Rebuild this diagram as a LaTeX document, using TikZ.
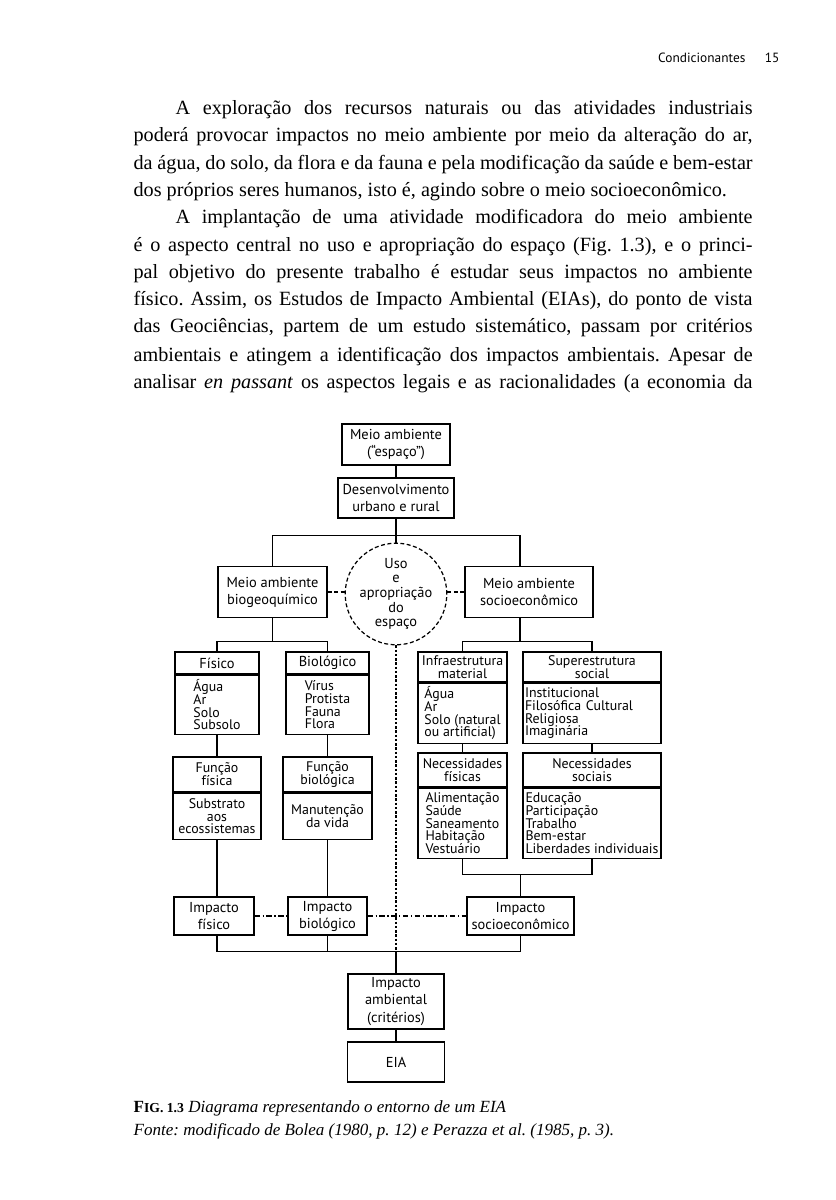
\documentclass[tikz,border=0pt]{standalone}
\usepackage{fontspec}
\setmainfont{Liberation Serif}
\newfontfamily\diagfont{PT Sans}
\usetikzlibrary{positioning}
\frenchspacing
\newcommand{\noskip}{\lineskiplimit=-10pt\relax}
\newcommand{\fullline}[2]{%
  \node[txt] (l#1) at (133,#1) {\makebox[123.8mm][s]{#2}};
}
\newcommand{\indline}[2]{%
  \node[txt] (l#1) at (175,#1) {\makebox[115.4mm][s]{#2}};
}

\begin{document}
\begin{tikzpicture}[x=0.2mm,y=-0.2mm,
  txt/.style={anchor=base west,inner sep=0pt,font=\fontsize{11.5}{13}\selectfont},
  captxt/.style={anchor=base west,inner sep=0pt,font=\fontsize{9.7}{11}\selectfont},
  hdr/.style={anchor=base east,inner sep=0pt,font=\diagfont\fontsize{7.6}{9}\selectfont},
  box/.style={draw,line width=0.7pt,inner sep=0pt,align=center,
    font=\diagfont\fontsize{8.2}{9.7}\selectfont\noskip},
  tight/.style={font=\diagfont\fontsize{7.9}{7.3}\selectfont\noskip},
  sz/.style 2 args={minimum width=#1*0.2mm,minimum height=#2*0.2mm},
  lst/.style={box,tight,align=left,below=0pt of #1},
  dashline/.style={line width=0.7pt,dash pattern=on 0.8mm off 0.5mm},
  dotline/.style={line width=0.7pt,dash pattern=on 0.5mm off 0.35mm},
  dashdotline/.style={line width=0.7pt,dash pattern=on 1.1mm off 0.5mm on 0.25mm off 0.5mm},
  every path/.style={line width=0.7pt}]
  \fill[white] (0,0) rectangle (835,1200);
  \useasboundingbox (0,0) rectangle (835,1200);

  \node[hdr] (run) at (746,63) {Condicionantes};
  \node[hdr] (pg) at (780,63) {15};

  \indline{115}{A exploração dos recursos naturais ou das atividades industriais}
  \foreach \y/\t in {142/{poderá provocar impactos no meio ambiente por meio da alteração do ar,},
                     170/{da água, do solo, da flora e da fauna e pela modificação da saúde e bem-estar}}
    {\fullline{\y}{\t}}
  \node[txt] (l197) at (133,197) {dos próprios seres humanos, isto é, agindo sobre o meio socioeconômico.};
  \indline{224}{A implantação de uma atividade modificadora do meio ambiente}
  \foreach \y/\t in {252/{é o aspecto central no uso e apropriação do espaço (Fig. 1.3), e o princi-},
                     279/{pal objetivo do presente trabalho é estudar seus impactos no ambiente},
                     306/{físico. Assim, os Estudos de Impacto Ambiental (EIAs), do ponto de vista},
                     333/{das Geociências, partem de um estudo sistemático, passam por critérios},
                     361/{ambientais e atingem a identificação dos impactos ambientais. Apesar de},
                     388/{analisar \textit{en passant} os aspectos legais e as racionalidades (a economia da}}
    {\fullline{\y}{\t}}

  \node[box,sz={108}{41}] (espaco) at (396,444.5) {Meio ambiente\\(“espaço”)};
  \node[box,sz={116}{40}] (desenv) at (396,498) {Desenvolvimento\\urbano e rural};
  \node[box,sz={109}{51}] (biogeo) at (272.5,592) {Meio ambiente\\biogeoquímico};
  \node[box,sz={128}{51}] (socio) at (529,592) {Meio ambiente\\socioeconômico};
  \node[box,circle,dashline,minimum size=19.6mm,
    font=\diagfont\fontsize{8.2}{8.3}\selectfont\noskip] (uso) at (396,594)
    {Uso\\e\\apropriação\\do\\espaço};

  \node[box,sz={84}{22}] (fisH) at (217,663) {Físico};
  \node[lst=fisH,sz={84}{59}] (fisB) {Água\\Ar\\Solo\\Subsolo};
  \node[box,sz={83}{22}] (bioH) at (327.5,663) {Biológico};
  \node[lst=bioH,sz={83}{59}] (bioB) {Vírus\\Protista\\Fauna\\Flora};
  \node[box,tight,sz={89}{30}] (infH) at (462.5,667) {Infraestrutura\\material};
  \node[lst=infH,sz={89}{60}] (infB) {Água\\Ar\\Solo (natural\\ou artificial)};
  \node[box,tight,sz={138}{30}] (supH) at (592,667) {Superestrutura\\social};
  \node[lst=supH,sz={138}{60},text width=26.8mm] (supB)
    {Institucional\\Filosófica Cultural\\Religiosa\\Imaginária};

  \node[box,tight,sz={88}{35}] (ffH) at (217,774.5) {Função\\física};
  \node[lst=ffH,align=center,sz={88}{46}] (ffB) {Substrato\\aos\\ecossistemas};
  \node[box,tight,sz={89}{35}] (fbH) at (327.5,774.5) {Função\\biológica};
  \node[lst=fbH,align=center,sz={89}{46}] (fbB) {Manutenção\\da vida};
  \node[box,tight,sz={89}{34}] (nfH) at (462.5,770) {Necessidades\\físicas};
  \node[lst=nfH,sz={89}{70}] (nfB) {Alimentação\\Saúde\\Saneamento\\Habitação\\Vestuário};
  \node[box,tight,sz={138}{34}] (nsH) at (592,770) {Necessidades\\sociais};
  \node[lst=nsH,sz={138}{70}] (nsB)
    {Educação\\Participação\\Trabalho\\Bem-estar\\Liberdades individuais};

  \node[box,sz={80}{38}] (impF) at (214,916) {Impacto\\físico};
  \node[box,sz={79}{38}] (impB) at (327.5,916) {Impacto\\biológico};
  \node[box,sz={107}{38}] (impS) at (520.5,916) {Impacto\\socioeconômico};
  \node[box,sz={96}{55}] (impA) at (396,1001.5) {Impacto\\ambiental\\(critérios)};
  \node[box,sz={97}{40}] (eia) at (396,1062) {EIA};

  \draw (espaco) -- (desenv);
  \draw (desenv) -- (uso);
  \path (desenv.south) ++(0,17) coordinate (top);
  \draw (biogeo.north) |- (top) -| ([xshift=-1.8mm]socio.north);
  \draw[dashline] (biogeo) -- (uso.west |- biogeo);
  \draw[dashline] (uso.east |- socio) -- (socio);
  \draw (biogeo.south) -- ++(0,23) coordinate (lb);
  \draw (fisH.north) |- (lb) -| (bioH.north);
  \draw ([xshift=-1.8mm]socio.south) -- ++(0,23) coordinate (rb);
  \draw (infH.north) |- (rb) -| (supH.north);
  \draw (fisB) -- (ffH);
  \draw (bioB) -- (fbH);
  \draw (infB) -- (nfH);
  \draw (supB) -- (nsH);
  \draw (ffB.south) -- (ffB.south |- impF.north);
  \draw (fbB) -- (impB);
  \draw (nfB.south) -- ++(0,16) coordinate (nb) -| (nsB.south);
  \draw (nb -| impS.north) -- (impS.north);
  \draw[dashdotline] (impF) -- (impB);
  \draw[dashdotline] (impB) -- (impS);
  \draw (ffB.south |- impF.south) -- ++(0,16) coordinate (ib) -| (impS.south);
  \draw (impB.south) -- (impB.south |- ib);
  \draw[dotline] (uso) -- (uso.south |- ib);
  \draw (uso.south |- ib) -- (impA);
  \draw (impA) -- (eia);

  \node[captxt] (fig) at (133,1112)
    {{\bfseries F\fontsize{7.8}{9}\selectfont IG. 1.3} \textit{Diagrama representando o entorno de um EIA}};
  \node[captxt] (src) at (133,1135)
    {\textit{Fonte: modificado de Bolea (1980, p. 12) e Perazza et al. (1985, p. 3).}};
\end{tikzpicture}
\end{document}
